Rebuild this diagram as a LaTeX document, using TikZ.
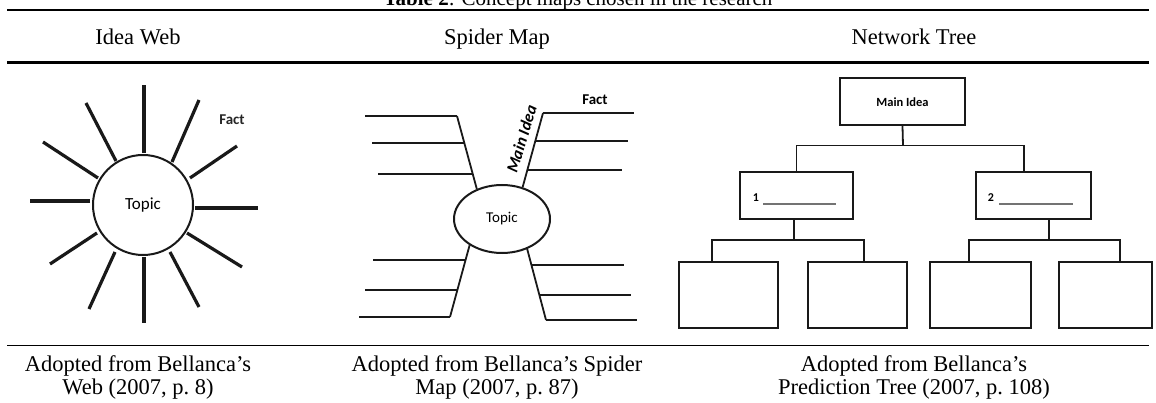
\documentclass[tikz,border=0pt]{standalone}
\usepackage{fontspec}
\setmainfont{Liberation Serif}
\newfontfamily\calib{Carlito}
\usetikzlibrary{shapes.geometric,calc}
\begin{document}
\begin{tikzpicture}[x=1pt,y=-1pt,
  rulethick/.style={line width=2.2pt},
  rulethin/.style={line width=1.4pt},
  head/.style={anchor=base,inner sep=0,font=\fontsize{22.5}{23}\selectfont},
  capt/.style={anchor=north,align=center,inner sep=0,font=\fontsize{22.5}{23}\selectfont},
  spoke/.style={line width=3.2pt,draw=black!90},
  leg/.style={line width=2.8pt,draw=black!90},
  stem/.style={line width=1.8pt,draw=black!90},
  box/.style={draw=black!90,line width=1.8pt,rectangle,inner sep=0},
  link/.style={line width=1.8pt,draw=black!90},
  blank/.style={line width=1.4pt,draw=black!55},
  lbl/.style={font=\calib\bfseries\fontsize{15}{15}\selectfont,inner sep=0}
]
\useasboundingbox (0,0) rectangle (1156,403);

% title and rules
\node[head,font=\fontsize{21}{24}\selectfont] (title) at (578,6) {\textbf{Table 2}: Concept maps chosen in the research};
\draw[rulethick] (7,10) -- (1149,10);
\draw[rulethick] (7,62.5) -- (1149,62.5);
\draw[rulethin] (7,345.5) -- (1149,345.5);

% headers
\node[head] (h1) at (138,44.5) {Idea Web};
\node[head] (h2) at (497,44.5) {Spider Map};
\node[head] (h3) at (914,44.5) {Network Tree};

% ---------- Idea web ----------
\node[circle,draw=black!90,line width=2pt,minimum size=100pt,inner sep=0,
      font=\calib\fontsize{17}{17}\selectfont] (topic) at (143,205) {Topic};
\foreach \a/\b/\c/\d in {144/153/144/85, 172/162/199/100, 190/178/237/146,
   195/208/258/208, 187/233/242/267, 170/252/199/307, 144/257/144/323,
   115/252/89/309, 97/233/50/264, 90/201/30/201, 98/178/43/142, 116/161/86/103}
  \draw[spoke] (\a,\b) -- (\c,\d);
\node[lbl,text=black!85] (fact1) at (232,120) {Fact};

% ---------- Spider map ----------
\node[ellipse,draw=black!90,line width=2pt,minimum width=96pt,minimum height=68pt,
      inner sep=0,font=\calib\fontsize{15}{15}\selectfont] (stopic) at (502,219) {Topic};
\coordinate (ult) at (457,116);
\coordinate (urt) at (543,113);
\coordinate (llb) at (450,317);
\coordinate (lrb) at (546,320);
\draw[stem] (stopic.130) -- (ult);
\draw[stem] (stopic.57) -- (urt);
\draw[stem] (stopic.219) -- (llb);
\draw[stem] (stopic.310) -- (lrb);
\draw[leg] (365,116) -- (ult);
\draw[leg] (372,143) -- (464.1,143);
\draw[leg] (378,174) -- (472.3,174);
\draw[leg] (urt) -- (634,113);
\draw[leg] (535.6,141) -- (628,141);
\draw[leg] (528,170) -- (622,170);
\draw[leg] (373,260) -- (465.3,260);
\draw[leg] (365,290) -- (457.2,290);
\draw[leg] (359,317) -- (llb);
\draw[leg] (531.9,265) -- (624,265);
\draw[leg] (539.6,295) -- (631,295);
\draw[leg] (lrb) -- (637,320);
\node[rotate=73,inner sep=0,font=\calib\bfseries\itshape\fontsize{16.5}{16.5}\selectfont] (mainidea) at (521.5,139) {Main Idea};
\node[lbl] (fact2) at (595,100) {Fact};

% ---------- Network tree ----------
\node[box,minimum width=125pt,minimum height=47pt,
      font=\calib\bfseries\fontsize{12.5}{12.5}\selectfont] (main) at (902.5,101.75) {Main Idea};
\node[box,minimum width=113pt,minimum height=47pt] (b1) at (796.5,195.5) {};
\node[box,minimum width=115pt,minimum height=47pt] (b2) at (1033.5,195.5) {};
\node[box,minimum width=99pt,minimum height=66pt] (c1) at (728.5,295) {};
\node[box,minimum width=99pt,minimum height=66pt] (c2) at (857.5,295) {};
\node[box,minimum width=101pt,minimum height=66pt] (c3) at (980.5,295) {};
\node[box,minimum width=93pt,minimum height=66pt] (c4) at (1105.5,295) {};

\node[font=\calib\bfseries\fontsize{12}{12}\selectfont,inner sep=0] (n1) at (756,198) {1};
\node[font=\calib\bfseries\fontsize{12}{12}\selectfont,inner sep=0] (n2) at (991,198) {2};
\draw[blank] (763,204) -- (836,204);
\draw[blank] (999,204) -- (1073,204);

\coordinate (j1) at (903,145.5);
\draw[link] (main.south) -- (j1);
\draw[link] (b1.north) |- (j1);
\draw[link] ([xshift=-9.5pt]b2.north) |- (j1);
\coordinate (j2) at (794,240);
\draw[link] (j2 |- b1.south) -- (j2);
\draw[link] ([xshift=-16.5pt]c1.north) |- (j2);
\draw[link] ([xshift=6.5pt]c2.north) |- (j2);
\coordinate (j3) at (1049,240);
\draw[link] (j3 |- b2.south) -- (j3);
\draw[link] ([xshift=-11.5pt]c3.north) |- (j3);
\draw[link] ([xshift=14.5pt]c4.north) |- (j3);

% captions
\node[capt] (cap1) at (138,355) {Adopted from Bellanca’s\\Web (2007, p.~8)};
\node[capt] (cap2) at (497,355) {Adopted from Bellanca’s Spider\\Map (2007, p.~87)};
\node[capt] (cap3) at (914,355) {Adopted from Bellanca’s\\Prediction Tree (2007, p.~108)};
\end{tikzpicture}
\end{document}
